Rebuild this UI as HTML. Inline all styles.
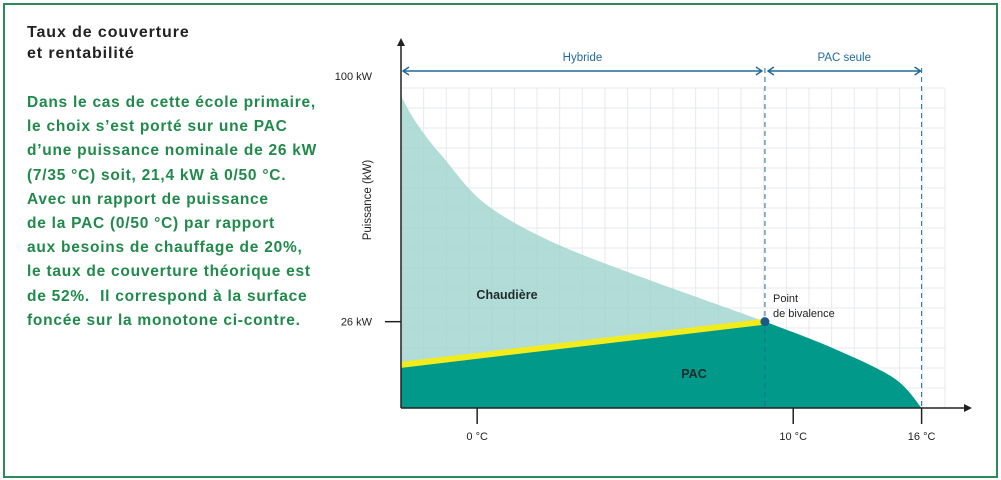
<!DOCTYPE html>
<html><head><meta charset="utf-8">
<style>
body{margin:0;width:1001px;height:480px;background:#fff;overflow:hidden;font-family:"Liberation Sans",sans-serif;}
#frame{position:absolute;left:3px;top:3px;width:991px;height:471px;border:2px solid #2f8a5a;}
#title{position:absolute;left:27px;top:22px;font-size:16px;font-weight:bold;color:#222;line-height:21px;letter-spacing:0.9px;}
#para{position:absolute;left:27px;top:91px;font-size:15.5px;font-weight:bold;color:#1f8a4a;line-height:24.2px;white-space:pre;letter-spacing:0.75px;}
svg{position:absolute;left:0;top:0;}
</style></head><body>
<div id="frame"></div>
<div id="title">Taux de couverture<br>et rentabilité</div>
<div id="para">Dans le cas de cette école primaire,
le choix s’est porté sur une PAC
d’une puissance nominale de 26 kW
(7/35 °C) soit, 21,4 kW à 0/50 °C.
Avec un rapport de puissance
de la PAC (0/50 °C) par rapport
aux besoins de chauffage de 20%,
le taux de couverture théorique est
de 52%.  Il correspond à la surface
foncée sur la monotone ci-contre.</div>
<svg id="chart" width="1001" height="480"></svg>
<script>
// x domain: fraction of the heating period (0..1), y: power in kW
const curveX = [0, 0.02, 0.045, 0.075, 0.151, 0.265, 0.416, 0.669, 0.794, 0.906, 0.957];
const curveKW = [94, 88, 82, 76, 62, 51, 41, 26, 18, 9, 0];
const pacLineX = [0, 0.669];
const pacLineKW = [13, 26];
const yTickValues = [100, 26];
const yTickLabels = ["100 kW", "26 kW"];
const xTickValues = [0.140, 0.721, 0.957];
const xTickLabels = ["0 °C", "10 °C", "16 °C"];
const bivalenceX = 0.669, bivalenceKW = 26;

const X0=401, X1=945, Y0=408;
const sx = u => X0 + u*(X1-X0);
const sy = kw => Y0 - kw*3.32;
const NS="http://www.w3.org/2000/svg";
const svg=document.getElementById('chart');
function mk(tag, attrs){const e=document.createElementNS(NS,tag);for(const k in attrs)e.setAttribute(k,attrs[k]);svg.appendChild(e);return e;}

function smooth(xs, ys){
  const p=xs.map((x,i)=>[sx(x),sy(ys[i])]);
  let d=`M${p[0][0]},${p[0][1]}`;
  for(let i=0;i<p.length-1;i++){
    const a=p[i-1]||p[i], b=p[i], c=p[i+1], e=p[i+2]||c;
    d+=` C${b[0]+(c[0]-a[0])/6},${b[1]+(c[1]-a[1])/6} ${c[0]-(e[0]-b[0])/6},${c[1]-(e[1]-b[1])/6} ${c[0]},${c[1]}`;
  }
  return d;
}
for(let i=0;i<=24;i++){const x=X0+i*(X1-X0)/24;
  const l=mk('line',{x1:x,y1:88,x2:x,y2:Y0,stroke:'#e4eaee','stroke-width':1});
  }
for(let j=0;j<=16;j++){const y=88+j*(Y0-88)/16;
  const l=mk('line',{x1:X0,y1:y,x2:X1,y2:y,stroke:'#e4eaee','stroke-width':1});
  }

const curveD=smooth(curveX,curveKW);
const area=mk('path',{d:curveD+` L${sx(curveX[0])},${Y0} Z`,fill:'#9fd3cd','fill-opacity':0.8});

const bi=curveX.indexOf(bivalenceX);
const tailD=smooth(curveX.slice(bi),curveKW.slice(bi));
const pac=mk('path',{d:`M${sx(pacLineX[0])},${sy(pacLineKW[0])} L${sx(pacLineX[1])},${sy(pacLineKW[1])} `+tailD.replace(/^M[^C]*/,'')+` L${sx(pacLineX[0])},${Y0} Z`,fill:'#00998a'});

const yl=mk('line',{x1:sx(pacLineX[0]),y1:sy(pacLineKW[0]),x2:sx(pacLineX[1]),y2:sy(pacLineKW[1]),stroke:'#f2ec1c','stroke-width':6});


[bivalenceX, xTickValues[2]].forEach(v=>{
  const l=mk('line',{x1:sx(v),y1:68,x2:sx(v),y2:Y0,stroke:'#1f6a9a','stroke-width':1,'stroke-dasharray':'5,4'});
  
});
const ax=mk('path',{d:`M${X0},${Y0} L${X0},44 M${X0},${Y0} L966,${Y0}`,stroke:'#222','stroke-width':1.5,fill:'none'});

const ah=mk('path',{d:`M${X0-4},46 L${X0},38 L${X0+4},46 Z M964,${Y0-4} L972,${Y0} L964,${Y0+4} Z`,fill:'#222'});


yTickValues.forEach((v,i)=>{
  const y=sy(v);
  if(i>0){const t=mk('line',{x1:X0-16,y1:y,x2:X0,y2:y,stroke:'#222','stroke-width':1.5});
    }
  const tx=mk('text',{x:372,y:y+4,'text-anchor':'end','font-size':11,fill:'#222'});tx.textContent=yTickLabels[i];
  
});
xTickValues.forEach((v,i)=>{
  const x=sx(v);
  const t=mk('line',{x1:x,y1:Y0,x2:x,y2:Y0+16,stroke:'#222','stroke-width':1.5});
  
  const tx=mk('text',{x:x,y:440,'text-anchor':'middle','font-size':11,fill:'#222'});tx.textContent=xTickLabels[i];
  
});
const yt=mk('text',{x:0,y:0,transform:'translate(371,200) rotate(-90)','text-anchor':'middle','font-size':11.5,fill:'#222'});
yt.textContent='Puissance (kW)';


function arrow(xa,xb,label,name){
  const g=mk('path',{d:`M${xa},71 L${xb},71 M${xa+6},67 L${xa},71 L${xa+6},75 M${xb-6},67 L${xb},71 L${xb-6},75`,stroke:'#1f6a9a','stroke-width':1.4,fill:'none'});
  
  const t=mk('text',{x:(xa+xb)/2,y:61,'text-anchor':'middle','font-size':11.5,fill:'#1f6a9a'});t.textContent=label;
  
}
arrow(X0+2,sx(bivalenceX)-3,'Hybride','hybride');
arrow(sx(bivalenceX)+3,sx(xTickValues[2])-1,'PAC seule','pac-seule');

const dot=mk('circle',{cx:sx(bivalenceX),cy:sy(bivalenceKW),r:4.5,fill:'#1a5a8c'});

const l1=mk('text',{x:773,y:302,'font-size':11,fill:'#222'});l1.textContent='Point';

const l2=mk('text',{x:773,y:317,'font-size':11,fill:'#222'});l2.textContent='de bivalence';

const c=mk('text',{x:507,y:299,'text-anchor':'middle','font-size':12.5,'font-weight':'bold',fill:'#1f2a2a'});c.textContent='Chaudière';

const p=mk('text',{x:694,y:378,'text-anchor':'middle','font-size':12.5,'font-weight':'bold',fill:'#1f2a2a'});p.textContent='PAC';

</script>
</body></html>
